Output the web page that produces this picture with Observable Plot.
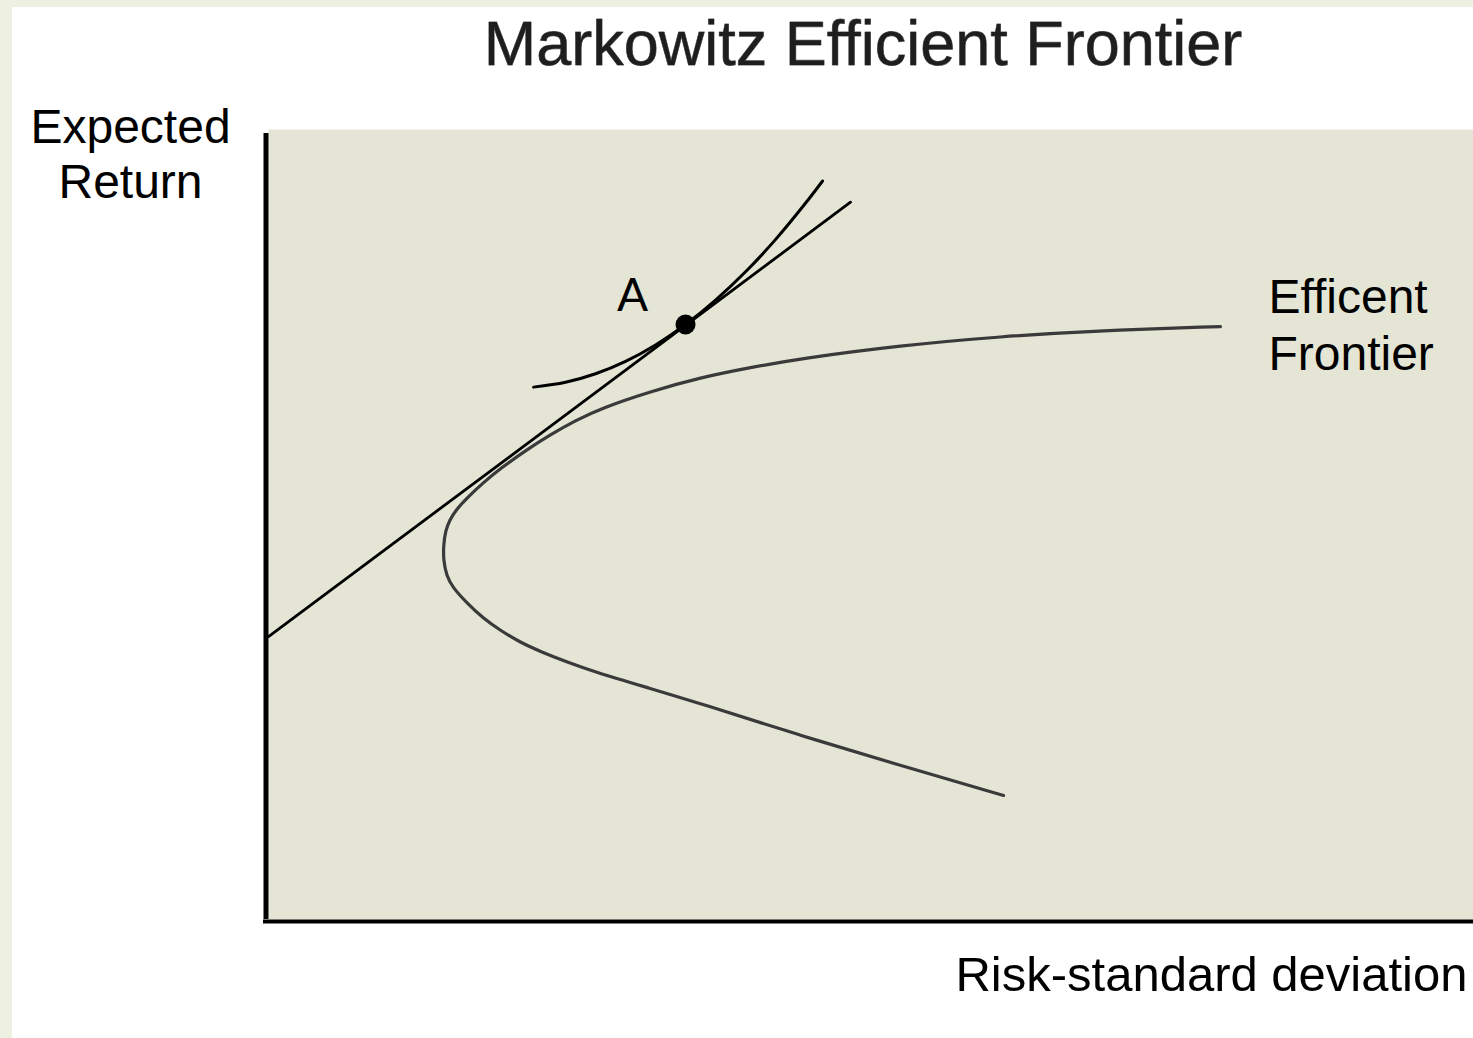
<!DOCTYPE html>
<html>
<head>
<meta charset="utf-8">
<script src="https://cdn.jsdelivr.net/npm/d3@7"></script>
<script src="https://cdn.jsdelivr.net/npm/@observablehq/plot@0.6"></script>
<style>
  html, body { margin: 0; padding: 0; background: #eef0e2; width: 1473px; height: 1038px; overflow: hidden; }
  #chart { position: absolute; left: 12px; top: 7px; }
</style>
</head>
<body>
<div id="chart"></div>
<script>
// Chart texts
const titleText = "Markowitz Efficient Frontier";
const yLabel = "Expected\nReturn";
const xLabel = "Risk-standard deviation";
const frontierLabel = "Efficent\nFrontier";
const pointLabel = "A";

// Efficient frontier (risk, return), lower branch end to upper branch end
const frontierRisk   = [61.00, 52.45, 44.15, 35.85, 31.70, 26.97, 24.65, 22.57, 20.91, 19.25, 17.84, 16.51, 15.27, 14.77, 14.52,
                        14.52, 14.69, 15.02, 15.52, 16.51, 17.84, 19.25, 21.33, 23.40, 25.48, 27.55, 31.70, 35.85, 40.00, 44.15, 52.45, 60.75, 69.05, 79.00];
const frontierReturn = [15.70, 19.49, 23.29, 27.34, 29.24, 31.39, 32.66, 33.92, 35.06, 36.58, 38.10, 40.00, 42.03, 43.54, 45.44,
                        47.34, 49.24, 50.51, 51.77, 53.42, 55.32, 57.09, 59.37, 61.39, 63.16, 64.68, 66.84, 68.61, 69.87, 71.01, 72.66, 73.80, 74.56, 75.06];

// Capital market (tangent) line
const tangentRisk   = [0, 48.3];
const tangentReturn = [35.8, 90.8];

// Indifference curve
const indiffRisk   = [22.00, 24.65, 27.14, 29.63, 32.12, 34.61, 37.10, 39.59, 42.07, 44.56, 45.98];
const indiffReturn = [67.39, 68.00, 69.08, 70.65, 72.73, 75.32, 78.41, 81.99, 86.06, 90.66, 93.48];

// Tangency point A
const pointRisk = 34.61;
const pointReturn = 75.32;

const frontier = frontierRisk.map((x, i) => ({x, y: frontierReturn[i]}));
const tangent = tangentRisk.map((x, i) => ({x, y: tangentReturn[i]}));
const indiff = indiffRisk.map((x, i) => ({x, y: indiffReturn[i]}));
const pointA = [{x: pointRisk, y: pointReturn}];
const frontierEnd = [frontier[frontier.length - 1]];

const font = "'Liberation Sans', Arial, sans-serif";

const chart = Plot.plot({
  width: 1461,
  height: 1031,
  marginLeft: 256,
  marginRight: 0,
  marginTop: 122,
  marginBottom: 119,
  x: {domain: [0, 100], axis: null},
  y: {domain: [0, 100], axis: null},
  style: {background: "white", fontFamily: font, color: "black", overflow: "visible"},
  marks: [
    Plot.frame({fill: "#e4e5d4", stroke: null}),
    Plot.line(frontier, {x: "x", y: "y", curve: "basis", stroke: "#3a3a3a", strokeWidth: 3.2}),
    Plot.line(tangent, {x: "x", y: "y", stroke: "black", strokeWidth: 2.8}),
    Plot.line(indiff, {x: "x", y: "y", curve: "catmull-rom", stroke: "black", strokeWidth: 3}),
    Plot.dot(pointA, {x: "x", y: "y", r: 10, fill: "black", stroke: null}),
    Plot.text(pointA, {x: "x", y: "y", text: () => pointLabel, lineAnchor: "middle", dx: -53, dy: -28, fontSize: 46, fontWeight: 400, fontFamily: "Lato, 'Open Sans', sans-serif", fill: "black"}),
    Plot.text(frontierEnd, {x: "x", y: "y", text: () => frontierLabel, lineAnchor: "middle", textAnchor: "start", dx: 48, dy: -3, fontSize: 48, lineHeight: 1.19, fill: "black"}),
    Plot.ruleX([0], {y1: 0, y2: 100, strokeWidth: 5, dx: -2.5, insetBottom: -4, stroke: "black"}),
    Plot.ruleY([0], {x1: 0, x2: 100, strokeWidth: 4, dy: 2, insetLeft: -5, stroke: "black"}),
    Plot.text([titleText], {frameAnchor: "top", lineAnchor: "middle", text: d => d, dx: -8, dy: -85, fontSize: 63, fill: "#1e1e1e", stroke: "#666", strokeWidth: 0.8}),
    Plot.text([yLabel], {frameAnchor: "top-left", lineAnchor: "middle", text: d => d, textAnchor: "middle", dx: -138, dy: 23, fontSize: 48, lineHeight: 1.15, fill: "black"}),
    Plot.text([xLabel], {frameAnchor: "bottom-right", lineAnchor: "middle", text: d => d, textAnchor: "end", dx: -6, dy: 56, fontSize: 49, fill: "black"})
  ]
});
document.getElementById("chart").append(chart);
</script>
</body>
</html>
